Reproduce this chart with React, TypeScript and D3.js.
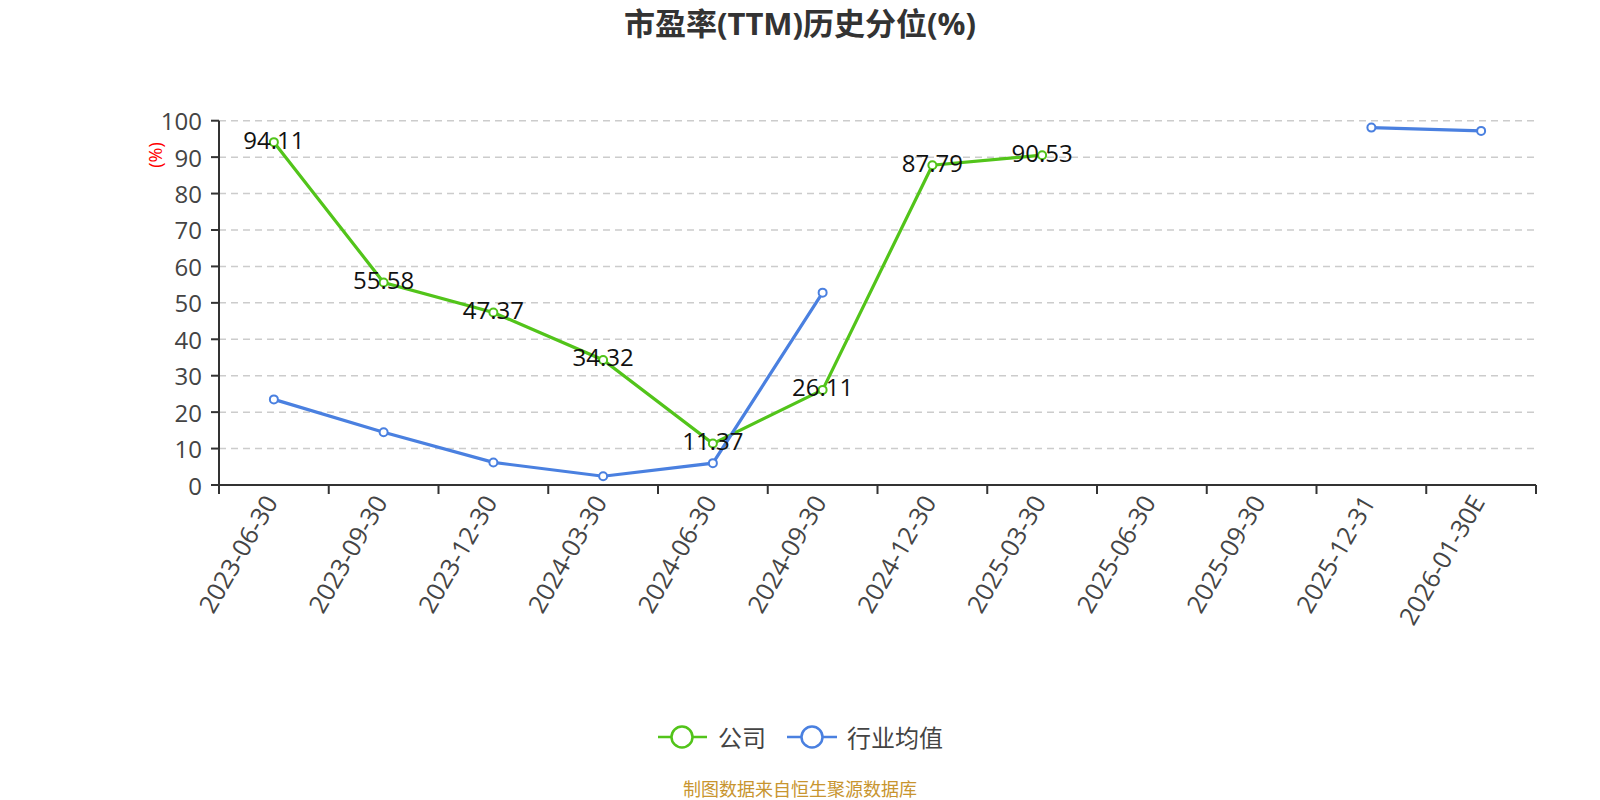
import React from "react";
import * as d3 from "d3";

const categories = [
  "2023-06-30", "2023-09-30", "2023-12-30", "2024-03-30", "2024-06-30", "2024-09-30",
  "2024-12-30", "2025-03-30", "2025-06-30", "2025-09-30", "2025-12-31", "2026-01-30E",
];
const companyValues: (number | null)[] = [94.11, 55.58, 47.37, 34.32, 11.37, 26.11, 87.79, 90.53, null, null, null, null];
const industryValues: (number | null)[] = [23.5, 14.5, 6.2, 2.4, 6.0, 52.8, null, null, null, null, 98.1, 97.2];
const yTicks = [0, 10, 20, 30, 40, 50, 60, 70, 80, 90, 100];

const W = 1600, H = 800;
const LEFT = 219, RIGHT = 1536, TOP = 120.7, BOTTOM = 485;
const GREEN = "#52c41a";
const BLUE = "#4a80e0";
const FONT = "'Open Sans', 'Noto Sans CJK SC', sans-serif";

export default function App() {
  const x = d3.scaleBand<string>().domain(categories).range([LEFT, RIGHT]).paddingInner(0).paddingOuter(0);
  const y = d3.scaleLinear().domain([0, 100]).range([BOTTOM, TOP]);
  const cx = (c: string) => (x(c) as number) + x.bandwidth() / 2;

  const mk = (vals: (number | null)[]) =>
    d3.line<number | null>()
      .defined((d) => d !== null)
      .x((_, i) => cx(categories[i]))
      .y((d) => y(d as number))(vals) as string;

  const series = [
    { name: "公司", vals: companyValues, color: GREEN, labels: true },
    { name: "行业均值", vals: industryValues, color: BLUE, labels: false },
  ];

  const tickXs = d3.range(categories.length + 1).map((i) => LEFT + x.bandwidth() * i);

  return (
    <svg width={W} height={H} style={{ position: "fixed", left: 0, top: 0, background: "#fff" }} fontFamily={FONT}>
      <rect x={0} y={0} width={W} height={H} fill="#fff" />
      <text x={800} y={23} textAnchor="middle" dominantBaseline="central" fontSize={31} fontWeight="bold" fill="#333">
        市盈率(TTM)历史分位(%)
      </text>
      {/* grid */}
      {yTicks.filter((t) => t > 0).map((t) => (
        <line key={t} x1={LEFT} x2={RIGHT} y1={y(t)} y2={y(t)} stroke="#ccc" strokeWidth={1.5} strokeDasharray="7,5" />
      ))}
      {/* y axis */}
      <line x1={LEFT} x2={LEFT} y1={TOP} y2={BOTTOM} stroke="#333" strokeWidth={2} />
      {yTicks.map((t) => (
        <g key={t}>
          <line x1={LEFT - 8} x2={LEFT} y1={y(t)} y2={y(t)} stroke="#333" strokeWidth={2} />
          <text x={LEFT - 17} y={y(t)} textAnchor="end" dominantBaseline="central" fontSize={24} fill="#444">{t}</text>
        </g>
      ))}
      <text transform={`translate(155,155) rotate(-90)`} textAnchor="middle" dominantBaseline="central" fontSize={18} fill="red">(%)</text>
      {/* x axis */}
      <line x1={LEFT} x2={RIGHT} y1={BOTTOM} y2={BOTTOM} stroke="#333" strokeWidth={2} />
      {tickXs.map((tx, i) => (
        <line key={i} x1={tx} x2={tx} y1={BOTTOM} y2={BOTTOM + 9} stroke="#333" strokeWidth={2} />
      ))}
      {categories.map((c) => (
        <text key={c} transform={`translate(${cx(c) - 4},${BOTTOM + 12}) rotate(-60)`} textAnchor="end" dominantBaseline="central" fontSize={25} fill="#444">
          {c}
        </text>
      ))}
      {/* lines */}
      {series.map((s) => (
        <path key={s.name} d={mk(s.vals)} fill="none" stroke={s.color} strokeWidth={3.2} />
      ))}
      {series.map((s) =>
        s.vals.map((v, i) =>
          v === null ? null : (
            <circle key={s.name + i} cx={cx(categories[i])} cy={y(v)} r={4} fill="#fff" stroke={s.color} strokeWidth={2} />
          )
        )
      )}
      {series.filter((s) => s.labels).map((s) =>
        s.vals.map((v, i) =>
          v === null ? null : (
            <text key={"l" + i} x={cx(categories[i])} y={y(v) - 3} textAnchor="middle" dominantBaseline="central" fontSize={24} fill="#111">
              {v.toFixed(2)}
            </text>
          )
        )
      )}
      {/* legend */}
      <g>
        <line x1={658} x2={707} y1={737} y2={737} stroke={GREEN} strokeWidth={2.5} />
        <circle cx={682} cy={737} r={10.5} fill="#fff" stroke={GREEN} strokeWidth={2.5} />
        <text x={718} y={737} dominantBaseline="central" fontSize={24} fill="#444">公司</text>
        <line x1={787} x2={837} y1={737} y2={737} stroke={BLUE} strokeWidth={2.5} />
        <circle cx={812} cy={737} r={10.5} fill="#fff" stroke={BLUE} strokeWidth={2.5} />
        <text x={847} y={737} dominantBaseline="central" fontSize={24} fill="#444">行业均值</text>
      </g>
      <text x={800} y={789} textAnchor="middle" dominantBaseline="central" fontSize={18} fill="#c8952f">制图数据来自恒生聚源数据库</text>
    </svg>
  );
}
